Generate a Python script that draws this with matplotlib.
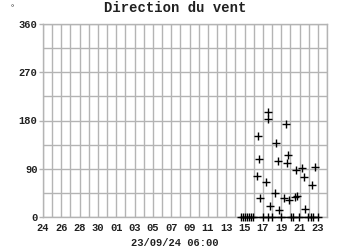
import matplotlib
matplotlib.use("Agg")
import matplotlib.pyplot as plt
import matplotlib.dates as mdates
import pandas as pd

# Wind direction readings (degrees)
obs_times = [
    "2024-09-17 13:00", "2024-09-17 14:30", "2024-09-19 12:00", "2024-09-16 11:00",
    "2024-09-18 10:30", "2024-09-19 17:15", "2024-09-16 15:00", "2024-09-18 15:00",
    "2024-09-19 14:40", "2024-09-20 15:00", "2024-09-21 06:45", "2024-09-22 17:45",
    "2024-09-16 09:00", "2024-09-17 07:40", "2024-09-21 12:00", "2024-09-22 09:50",
    "2024-09-18 09:00", "2024-09-16 17:45", "2024-09-19 07:30", "2024-09-19 20:40",
    "2024-09-20 11:30", "2024-09-20 16:50", "2024-09-17 18:00", "2024-09-18 17:45",
    "2024-09-21 13:40",
]
obs_dir = [195, 183, 174, 151, 138, 116, 108, 104, 100, 87, 91, 93,
           76, 65, 75, 59, 44, 35, 35, 32, 38, 40, 20, 13, 15]

# Calm readings (direction 0)
calm_times = [
    "2024-09-14 14:00", "2024-09-14 19:30", "2024-09-15 00:45", "2024-09-15 06:00",
    "2024-09-15 11:00", "2024-09-15 16:20", "2024-09-15 21:30", "2024-09-16 23:45",
    "2024-09-17 14:10", "2024-09-17 23:15", "2024-09-19 00:15", "2024-09-20 01:00",
    "2024-09-20 06:15", "2024-09-20 23:15", "2024-09-21 21:30", "2024-09-22 05:30",
    "2024-09-22 10:30", "2024-09-22 23:45",
]
calm_dir = [0] * len(calm_times)

y_ticks = [0, 90, 180, 270, 360]
x_start, x_end = "2024-08-24", "2024-09-24"
title = "Direction du vent"
stamp = "23/09/24 06:00"

font = "Liberation Mono"
grid_col = "#b4b4b4"
text_col = "#202020"

fig = plt.figure(figsize=(3.5, 2.5), dpi=100)
ax = fig.add_axes([43 / 350, 33 / 250, 284 / 350, 193 / 250])

ot = pd.to_datetime(obs_times)
ct = pd.to_datetime(calm_times)
ax.plot(ct, calm_dir, color="black", lw=1, marker="+", ms=6, mew=1,
        clip_on=False, zorder=3)
ax.plot(ot, obs_dir, ls="none", color="black", marker="+", ms=6, mew=1,
        clip_on=False, zorder=3)

ax.set_xlim(pd.Timestamp(x_start), pd.Timestamp(x_end))
ax.set_ylim(0, 360)

major = pd.date_range(x_start, "2024-09-23", freq="2D")
ax.set_xticks(major)
ax.set_xticklabels([d.strftime("%d") for d in major])
ax.xaxis.set_minor_locator(mdates.DayLocator())
ax.set_yticks(y_ticks)
ax.set_yticks(range(45, 360, 90), minor=True)

ax.grid(True, which="both", color=grid_col, lw=1)
ax.set_axisbelow(True)
for s in ax.spines.values():
    s.set_color(grid_col)
    s.set_linewidth(1)

ax.tick_params(axis="x", which="both", length=0, pad=4)
ax.tick_params(axis="y", which="major", length=3, width=1, color=grid_col, pad=1)
ax.tick_params(axis="y", which="minor", length=0)
for lab in ax.get_xticklabels() + ax.get_yticklabels():
    lab.set_fontfamily(font)
    lab.set_fontweight("bold")
    lab.set_fontsize(7.5)
    lab.set_color(text_col)

fig.text(175 / 350, 1 - 8 / 250, title, ha="center", va="center",
         family=font, weight="bold", fontsize=10, color=text_col)
fig.text(175 / 350, 1 - 243 / 250, stamp, ha="center", va="center",
         family=font, weight="bold", fontsize=7.5, color=text_col)
fig.text(12 / 350, 1 - 9 / 250, "°", ha="center", va="center",
         family=font, fontsize=6, color=text_col)

fig.savefig("out.png", dpi=100)
